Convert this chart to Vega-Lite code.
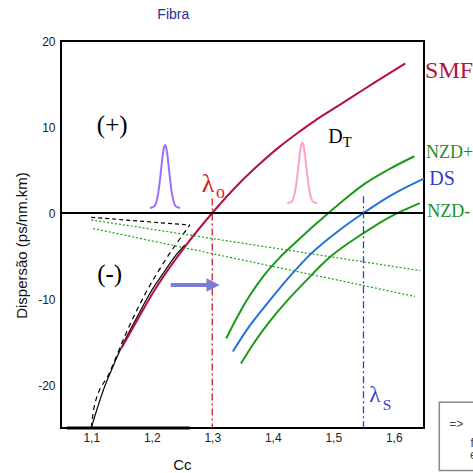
{
  "$schema": "https://vega.github.io/schema/vega-lite/v6.json",
  "width": 363,
  "height": 387,
  "autosize": {"type": "none"},
  "padding": {"left": 61, "top": 41, "right": 49, "bottom": 45},
  "background": "white",
  "config": {
    "view": {"stroke": "#000", "strokeWidth": 2},
    "axis": {"grid": false, "domain": false, "labelFont": "Liberation Sans", "labelFontSize": 12, "labelColor": "#222", "titleFont": "Liberation Sans", "titleFontWeight": "normal", "titleColor": "#111", "labelFlush": false, "labelOverlap": false}
  },
  "resolve": {"axis": {"x": "independent", "y": "independent"}},
  "encoding": {
    "x": {"field": "x", "type": "quantitative", "scale": {"domain": [1.05, 1.65], "nice": false, "zero": false}, "axis": null},
    "y": {"field": "y", "type": "quantitative", "scale": {"domain": [-25, 20], "nice": false, "zero": false}, "axis": null}
  },
  "layer": [
    {
      "data": {"values": [
        {"s": "base", "x": 1.1, "y": -25}, {"s": "base", "x": 1.11, "y": -22.7}, {"s": "base", "x": 1.12, "y": -20.6}, {"s": "base", "x": 1.135, "y": -18.0}, {"s": "base", "x": 1.15, "y": -15.6}, {"s": "base", "x": 1.175, "y": -12.2}, {"s": "base", "x": 1.2, "y": -9.0}, {"s": "base", "x": 1.22, "y": -6.9}, {"s": "base", "x": 1.24, "y": -4.9}, {"s": "base", "x": 1.255, "y": -3.7},
        {"s": "dash1", "x": 1.1, "y": -0.5}, {"s": "dash1", "x": 1.263, "y": -1.4},
        {"s": "dash2", "x": 1.1, "y": -25}, {"s": "dash2", "x": 1.105, "y": -22.5}, {"s": "dash2", "x": 1.13, "y": -18.6}, {"s": "dash2", "x": 1.16, "y": -13.6}, {"s": "dash2", "x": 1.19, "y": -9.3}, {"s": "dash2", "x": 1.225, "y": -5.2}, {"s": "dash2", "x": 1.263, "y": -1.4},
        {"s": "dot1", "x": 1.1, "y": -0.8}, {"s": "dot1", "x": 1.644, "y": -6.7},
        {"s": "dot2", "x": 1.103, "y": -1.8}, {"s": "dot2", "x": 1.635, "y": -9.7}
      ]},
      "mark": {"type": "line", "strokeWidth": 1.2, "interpolate": "monotone"},
      "encoding": {
        "x": {"field": "x", "type": "quantitative", "scale": {"domain": [1.05, 1.65], "nice": false, "zero": false},
          "axis": {"orient": "bottom", "ticks": false, "labelPadding": 4, "values": [1.1, 1.2, 1.3, 1.4, 1.5, 1.6], "labelExpr": "replace(format(datum.value,'.1f'),'.',',')", "title": "Cc", "titleX": 111.7, "titleY": 41, "titleAlign": "left", "titleBaseline": "alphabetic", "titleFontSize": 15}},
        "y": {"field": "y", "type": "quantitative", "scale": {"domain": [-25, 20], "nice": false, "zero": false},
          "axis": {"orient": "left", "ticks": false, "labelPadding": 6, "values": [-20, -10, 0, 10, 20], "labelExpr": "datum.value < 0 ? '-' + abs(datum.value) : '' + datum.value", "title": "Dispersão (ps/nm.km)", "titleX": -40, "titleY": 204, "titleAngle": -90, "titleAlign": "center", "titleBaseline": "middle", "titleFontSize": 15}},
        "stroke": {"field": "s", "type": "nominal", "scale": {"domain": ["base", "dash1", "dash2", "dot1", "dot2"], "range": ["#000000", "#000000", "#000000", "#1aa01a", "#1aa01a"]}, "legend": null},
        "strokeDash": {"field": "s", "type": "nominal", "scale": {"domain": ["base", "dash1", "dash2", "dot1", "dot2"], "range": [[1, 0], [4, 3], [5, 4], [2, 2], [2, 2]]}, "legend": null}
      }
    },
    {
      "data": {"values": [
        {"s": "SMF", "x": 1.15, "y": -15.7}, {"s": "SMF", "x": 1.175, "y": -12.6}, {"s": "SMF", "x": 1.2, "y": -9.5}, {"s": "SMF", "x": 1.228, "y": -6.5}, {"s": "SMF", "x": 1.255, "y": -3.9}, {"s": "SMF", "x": 1.3, "y": 0}, {"s": "SMF", "x": 1.346, "y": 3.55}, {"s": "SMF", "x": 1.379, "y": 5.75}, {"s": "SMF", "x": 1.412, "y": 7.75}, {"s": "SMF", "x": 1.44, "y": 9.25}, {"s": "SMF", "x": 1.47, "y": 10.75}, {"s": "SMF", "x": 1.5, "y": 12.1}, {"s": "SMF", "x": 1.528, "y": 13.35}, {"s": "SMF", "x": 1.57, "y": 15.25}, {"s": "SMF", "x": 1.619, "y": 17.4},
        {"s": "NZDp", "x": 1.323, "y": -14.6}, {"s": "NZDp", "x": 1.342, "y": -12.0}, {"s": "NZDp", "x": 1.362, "y": -9.6}, {"s": "NZDp", "x": 1.385, "y": -7.3}, {"s": "NZDp", "x": 1.41, "y": -5.3}, {"s": "NZDp", "x": 1.435, "y": -3.6}, {"s": "NZDp", "x": 1.462, "y": -1.85}, {"s": "NZDp", "x": 1.489, "y": -0.2}, {"s": "NZDp", "x": 1.52, "y": 1.65}, {"s": "NZDp", "x": 1.55, "y": 3.3}, {"s": "NZDp", "x": 1.59, "y": 5.0}, {"s": "NZDp", "x": 1.634, "y": 6.6},
        {"s": "DS", "x": 1.334, "y": -16.1}, {"s": "DS", "x": 1.36, "y": -13.3}, {"s": "DS", "x": 1.39, "y": -10.6}, {"s": "DS", "x": 1.434, "y": -6.9}, {"s": "DS", "x": 1.463, "y": -4.75}, {"s": "DS", "x": 1.511, "y": -1.95}, {"s": "DS", "x": 1.55, "y": 0}, {"s": "DS", "x": 1.594, "y": 2.0}, {"s": "DS", "x": 1.65, "y": 4.0},
        {"s": "NZDm", "x": 1.3475, "y": -17.5}, {"s": "NZDm", "x": 1.37, "y": -15.0}, {"s": "NZDm", "x": 1.395, "y": -12.6}, {"s": "NZDm", "x": 1.42, "y": -10.5}, {"s": "NZDm", "x": 1.456, "y": -7.8}, {"s": "NZDm", "x": 1.495, "y": -5.1}, {"s": "NZDm", "x": 1.55, "y": -2.35}, {"s": "NZDm", "x": 1.594, "y": -0.45}, {"s": "NZDm", "x": 1.643, "y": 1.15},
        {"s": "P1", "x": 1.1972, "y": 0.586}, {"s": "P1", "x": 1.2038, "y": 0.75}, {"s": "P1", "x": 1.2071, "y": 1.17}, {"s": "P1", "x": 1.2104, "y": 2.17}, {"s": "P1", "x": 1.2129, "y": 3.43}, {"s": "P1", "x": 1.2154, "y": 5.02}, {"s": "P1", "x": 1.2179, "y": 6.6}, {"s": "P1", "x": 1.2203, "y": 7.67}, {"s": "P1", "x": 1.222, "y": 7.9}, {"s": "P1", "x": 1.2237, "y": 7.67}, {"s": "P1", "x": 1.2261, "y": 6.6}, {"s": "P1", "x": 1.2286, "y": 5.02}, {"s": "P1", "x": 1.2311, "y": 3.43}, {"s": "P1", "x": 1.2336, "y": 2.17}, {"s": "P1", "x": 1.2369, "y": 1.17}, {"s": "P1", "x": 1.2402, "y": 0.75}, {"s": "P1", "x": 1.2468, "y": 0.586},
        {"s": "P2", "x": 1.4241, "y": 1.136}, {"s": "P2", "x": 1.4307, "y": 1.29}, {"s": "P2", "x": 1.434, "y": 1.69}, {"s": "P2", "x": 1.4373, "y": 2.66}, {"s": "P2", "x": 1.4398, "y": 3.87}, {"s": "P2", "x": 1.4423, "y": 5.4}, {"s": "P2", "x": 1.4448, "y": 6.92}, {"s": "P2", "x": 1.4472, "y": 7.95}, {"s": "P2", "x": 1.4489, "y": 8.17}, {"s": "P2", "x": 1.4506, "y": 7.95}, {"s": "P2", "x": 1.453, "y": 6.92}, {"s": "P2", "x": 1.4555, "y": 5.4}, {"s": "P2", "x": 1.458, "y": 3.87}, {"s": "P2", "x": 1.4605, "y": 2.66}, {"s": "P2", "x": 1.4638, "y": 1.69}, {"s": "P2", "x": 1.4671, "y": 1.29}, {"s": "P2", "x": 1.4737, "y": 1.136}
      ]},
      "mark": {"type": "line", "strokeWidth": 2, "interpolate": "monotone"},
      "encoding": {
        "color": {"field": "s", "type": "nominal", "scale": {"domain": ["SMF", "NZDp", "DS", "NZDm", "P1", "P2"], "range": ["#b3123e", "#1a9a1a", "#1f74d6", "#1a9a1a", "#9b6dfb", "#ff9fd0"]}, "legend": null}
      }
    },
    {
      "data": {"values": [{"x": 1.05, "x2": 1.65, "y": 0}]},
      "mark": {"type": "rule", "color": "#000", "strokeWidth": 2},
      "encoding": {"x2": {"field": "x2"}}
    },
    {
      "data": {"values": [{"x": 1.06, "x2": 1.263, "y": -25}]},
      "mark": {"type": "rule", "color": "#000", "strokeWidth": 3},
      "encoding": {"x2": {"field": "x2"}}
    },
    {
      "data": {"values": [{"x": 1.3, "y": 1.7, "y2": -25}]},
      "mark": {"type": "rule", "color": "#cc2020", "strokeWidth": 1.3, "strokeDash": [7, 3, 2, 3]},
      "encoding": {"y2": {"field": "y2"}}
    },
    {
      "data": {"values": [{"x": 1.55, "y": 1.95, "y2": -25}]},
      "mark": {"type": "rule", "color": "#3a3acc", "strokeWidth": 1.3, "strokeDash": [7, 3, 2, 3]},
      "encoding": {"y2": {"field": "y2"}}
    },
    {
      "data": {"values": [{"x": 1.2313, "x2": 1.3, "y": -8.37}]},
      "mark": {"type": "rule", "color": "#7b7bd8", "strokeWidth": 4},
      "encoding": {"x2": {"field": "x2"}}
    },
    {
      "data": {"values": [{"x": 1.3014, "y": -8.37}]},
      "mark": {"type": "point", "shape": "M-1,-1L1,0L-1,1Z", "size": 177, "filled": true, "color": "#7b7bd8", "opacity": 1, "strokeWidth": 0}
    },
    {
      "data": {"values": [{"x": 1.6517, "y": 15.73, "t": "SMF"}]},
      "mark": {"type": "text", "font": "Liberation Serif", "fontSize": 24, "color": "#b3123e", "align": "left", "baseline": "alphabetic"},
      "encoding": {"text": {"field": "t"}}
    },
    {
      "data": {"values": [{"x": 1.6533, "y": 6.36, "t": "NZD+"}, {"x": 1.6555, "y": -0.43, "t": "NZD-"}]},
      "mark": {"type": "text", "font": "Liberation Serif", "fontSize": 18, "color": "#1f8f1f", "align": "left", "baseline": "alphabetic"},
      "encoding": {"text": {"field": "t"}}
    },
    {
      "data": {"values": [{"x": 1.6588, "y": 3.26, "t": "DS"}]},
      "mark": {"type": "text", "font": "Liberation Serif", "fontSize": 20, "color": "#3a3acf", "align": "left", "baseline": "alphabetic"},
      "encoding": {"text": {"field": "t"}}
    },
    {
      "data": {"values": [{"x": 1.4918, "y": 8.17, "t": "D"}]},
      "mark": {"type": "text", "font": "Liberation Serif", "fontSize": 20, "color": "#000", "align": "left", "baseline": "alphabetic"},
      "encoding": {"text": {"field": "t"}}
    },
    {
      "data": {"values": [{"x": 1.5156, "y": 7.71, "t": "T"}]},
      "mark": {"type": "text", "font": "Liberation Serif", "fontSize": 14.5, "color": "#000", "align": "left", "baseline": "alphabetic"},
      "encoding": {"text": {"field": "t"}}
    },
    {
      "data": {"values": [{"x": 1.1346, "y": 9.35, "t": "(+)"}, {"x": 1.1305, "y": -8.05, "t": "(-)"}]},
      "mark": {"type": "text", "font": "Liberation Serif", "fontSize": 25, "color": "#000", "align": "center", "baseline": "alphabetic"},
      "encoding": {"text": {"field": "t"}}
    },
    {
      "data": {"values": [{"x": 1.2826, "y": 2.48, "t": "λ"}]},
      "mark": {"type": "text", "font": "Liberation Serif", "fontSize": 26, "color": "#dd1c1c", "align": "left", "baseline": "alphabetic"},
      "encoding": {"text": {"field": "t"}}
    },
    {
      "data": {"values": [{"x": 1.3062, "y": 1.71, "t": "o"}]},
      "mark": {"type": "text", "font": "Liberation Serif", "fontSize": 18, "color": "#dd1c1c", "align": "left", "baseline": "alphabetic"},
      "encoding": {"text": {"field": "t"}}
    },
    {
      "data": {"values": [{"x": 1.5596, "y": -21.94, "t": "λ"}]},
      "mark": {"type": "text", "font": "Liberation Serif", "fontSize": 23, "color": "#3b3bd6", "align": "left", "baseline": "alphabetic"},
      "encoding": {"text": {"field": "t"}}
    },
    {
      "data": {"values": [{"x": 1.5817, "y": -22.91, "t": "S"}]},
      "mark": {"type": "text", "font": "Liberation Serif", "fontSize": 15.5, "color": "#3b3bd6", "align": "left", "baseline": "alphabetic"},
      "encoding": {"text": {"field": "t"}}
    },
    {
      "data": {"values": [{"x": 1.2356, "y": 22.56, "t": "Fibra"}]},
      "mark": {"type": "text", "font": "Liberation Sans", "fontSize": 14, "color": "#2b2b99", "align": "center", "baseline": "alphabetic"},
      "encoding": {"text": {"field": "t"}}
    },
    {
      "data": {"values": [{"x": 1.6753, "x2": 1.76, "y": -22.0, "y2": -29.94}]},
      "mark": {"type": "rect", "fill": "#ffffff", "stroke": "#888888", "strokeWidth": 1.5},
      "encoding": {"x2": {"field": "x2"}, "y2": {"field": "y2"}}
    },
    {
      "data": {"values": [{"x": 1.6918, "y": -25.0, "t": "=>"}, {"x": 1.727, "y": -27.17, "t": "f"}, {"x": 1.726, "y": -28.6, "t": "e"}]},
      "mark": {"type": "text", "font": "Liberation Sans", "fontSize": 12, "color": "#444", "align": "left", "baseline": "alphabetic"},
      "encoding": {"text": {"field": "t"}}
    }
  ]
}
